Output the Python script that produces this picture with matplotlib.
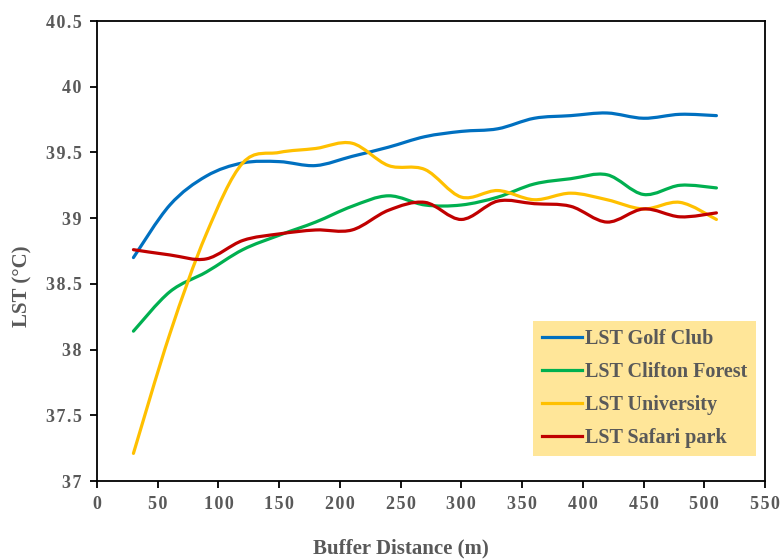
import matplotlib.pyplot as plt
from matplotlib.path import Path
from matplotlib.patches import PathPatch
from matplotlib.lines import Line2D
from matplotlib.ticker import MultipleLocator, FuncFormatter
import numpy as np

plt.rcParams['font.family'] = ['Liberation Serif', 'DejaVu Serif']
plt.rcParams['font.weight'] = 'bold'

buffer_m = [30, 60, 90, 120, 150, 180, 210, 240, 270, 300, 330, 360, 390, 420, 450, 480, 510]

golf_club = [38.70, 39.10, 39.32, 39.42, 39.43, 39.40, 39.47, 39.54, 39.62, 39.66, 39.68,
             39.76, 39.78, 39.80, 39.76, 39.79, 39.78]
clifton_forest = [38.14, 38.44, 38.59, 38.76, 38.87, 38.97, 39.09, 39.17, 39.10, 39.10, 39.16,
                  39.26, 39.30, 39.33, 39.18, 39.25, 39.23]
university = [37.21, 38.12, 38.88, 39.42, 39.50, 39.53, 39.57, 39.40, 39.37, 39.16, 39.21,
              39.14, 39.19, 39.14, 39.07, 39.12, 38.99]
safari_park = [38.76, 38.72, 38.69, 38.83, 38.88, 38.91, 38.91, 39.06, 39.12, 38.99, 39.13,
               39.11, 39.09, 38.97, 39.07, 39.01, 39.04]

series = [
    ("LST Golf Club", golf_club, "#0070C0"),
    ("LST Clifton Forest", clifton_forest, "#00B050"),
    ("LST University", university, "#FFC000"),
    ("LST Safari park", safari_park, "#C00000"),
]

TEXT = "#595959"


def smooth_path(xs, ys):
    # excel style smoothed line: cubic bezier through every point
    p = np.column_stack([xs, ys]).astype(float)
    ext = np.vstack([p[0], p, p[-1]])
    verts = [p[0]]
    codes = [Path.MOVETO]
    for i in range(len(p) - 1):
        c1 = ext[i + 1] + (ext[i + 2] - ext[i]) / 6.0
        c2 = ext[i + 2] - (ext[i + 3] - ext[i + 1]) / 6.0
        verts += [c1, c2, p[i + 1]]
        codes += [Path.CURVE4] * 3
    return Path(verts, codes)


def spaced(v, pos):
    # the original tick labels are letter-spaced a little
    return "\u200a".join(f"{v:g}")


fig = plt.figure(figsize=(7.83, 5.59), dpi=100)
ax = fig.add_axes([97 / 783, 1 - 481 / 559, 668 / 783, 460 / 559])

handles = []
for label, vals, color in series:
    patch = PathPatch(smooth_path(buffer_m, vals), facecolor="none", edgecolor=color,
                      lw=2.3, capstyle="round", joinstyle="round")
    ax.add_patch(patch)
    handles.append(Line2D([], [], color=color, lw=2.3, label=label))

ax.set_xlim(0, 550)
ax.set_ylim(37, 40.5)
ax.xaxis.set_major_locator(MultipleLocator(50))
ax.yaxis.set_major_locator(MultipleLocator(0.5))
ax.xaxis.set_major_formatter(FuncFormatter(spaced))
ax.yaxis.set_major_formatter(FuncFormatter(spaced))

for s in ax.spines.values():
    s.set_color("black")
    s.set_linewidth(1.3)
ax.tick_params(direction="out", length=5, width=1.3, colors="black",
               labelcolor=TEXT, labelsize=13, pad=6)

ax.set_xlabel("Buffer Distance (m)", fontsize=15, fontweight="bold", color=TEXT)
ax.set_ylabel("LST (\u00b0C)", fontsize=15, fontweight="bold", color=TEXT)
ax.xaxis.set_label_coords(0.455, -0.125)
ax.yaxis.set_label_coords(-0.096, 0.424)

leg = ax.legend(handles=handles, loc="lower right", bbox_to_anchor=(0.9865, 0.054),
                borderaxespad=0, fontsize=14.5, frameon=True, fancybox=False,
                handlelength=2.0, handletextpad=0.15, labelspacing=0.64,
                borderpad=0.42)
frame = leg.get_frame()
frame.set_facecolor("#FFE699")
frame.set_edgecolor("none")
frame.set_alpha(1)
for t in leg.get_texts():
    t.set_color(TEXT)
    t.set_fontweight("bold")

fig.savefig("out.png", dpi=100)
